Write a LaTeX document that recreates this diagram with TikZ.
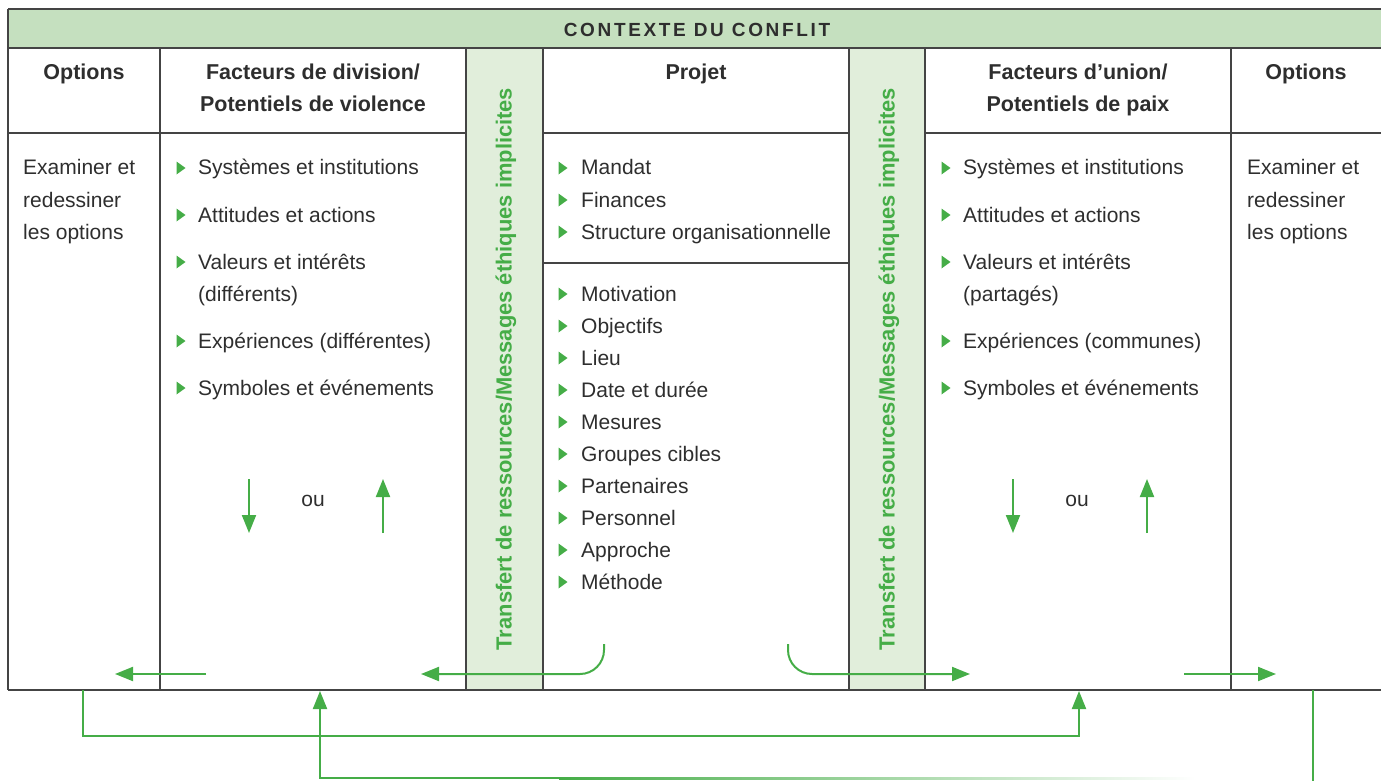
\documentclass[tikz,border=0pt]{standalone}
\usepackage{fontspec}
\setmainfont{Liberation Sans}
\usetikzlibrary{arrows.meta}
\definecolor{hdrgreen}{HTML}{C5E0BF}
\definecolor{colgreen}{HTML}{E1EEDB}
\definecolor{arrgreen}{HTML}{45AD47}
\definecolor{txt}{HTML}{2E2E2E}
\definecolor{rule}{HTML}{444444}
\tikzset{
  body/.style={font=\fontsize{21}{25}\selectfont, text=txt, inner sep=0pt, anchor=base west},
  head/.style={font=\bfseries\fontsize{21.5}{25}\selectfont, text=txt, inner sep=0pt, anchor=base},
  rulel/.style={draw=rule, line width=1.3pt},
  garrow/.style={draw=arrgreen, line width=2pt, -{Triangle[length=18pt,width=14pt]}},
  gline/.style={draw=arrgreen, line width=2pt},
  bul/.style={fill=arrgreen, draw=none},
  vtext/.style={font=\bfseries\fontsize{21.9}{25}\selectfont, text=arrgreen, rotate=90, inner sep=0pt},
}
\newcommand\mybul[2]{\fill[bul] (#1-4.5,#2-6.5) -- (#1-4.5,#2+6.5) -- (#1+4.5,#2) -- cycle;}
\begin{document}
\begin{tikzpicture}[x=1pt,y=-1pt]
\useasboundingbox (0,0) rectangle (1381,781);
% fills
\fill[hdrgreen] (8,9) rectangle (1381,48);
\fill[colgreen] (466,48) rectangle (543,690);
\fill[colgreen] (849,48) rectangle (925,690);
% rules
\draw[rulel] (8,9) -- (1381,9);
\draw[rulel] (8,48) -- (1381,48);
\draw[rulel] (8,133) -- (466,133);
\draw[rulel] (543,133) -- (849,133);
\draw[rulel] (925,133) -- (1381,133);
\draw[rulel] (543,263) -- (849,263);
\draw[rulel] (8,690) -- (1381,690);
\draw[rulel] (8,9) -- (8,690);
\foreach \xx in {160,466,543,849,925,1231} \draw[rulel] (\xx,48) -- (\xx,690);
% header
\node[head, font=\bfseries\fontsize{19}{22}\selectfont\addfontfeature{LetterSpace=14}] (ctx) at (697,37) {CONTEXTE DU CONFLIT};
\node[head] (h1) at (84,80) {Options};
\node[head] (h2a) at (313,80) {Facteurs de division/};
\node[head] (h2b) at (313,112) {Potentiels de violence};
\node[head] (h3) at (696,80) {Projet};
\node[head] (h4a) at (1078,80) {Facteurs d’union/};
\node[head] (h4b) at (1078,112) {Potentiels de paix};
\node[head] (h5) at (1306,80) {Options};
% vertical texts
\node[vtext] (v1) at (506,369) {Transfert de ressources/Messages éthiques implicites};
\node[vtext] (v2) at (889,369) {Transfert de ressources/Messages éthiques implicites};
% options texts
\node[body] (o1) at (23,175) {Examiner et};
\node[body] (o2) at (23,207) {redessiner};
\node[body] (o3) at (23,239) {les options};
\node[body] (p1) at (1247,175) {Examiner et};
\node[body] (p2) at (1247,207) {redessiner};
\node[body] (p3) at (1247,239) {les options};
% column 2
\foreach \yy/\tt [count=\i] in {175/Systèmes et institutions, 222/Attitudes et actions, 269/Valeurs et intérêts, 348/Expériences (différentes), 395/Symboles et événements}{
  \mybul{181}{\yy-7}
  \node[body] (d\i) at (198,\yy) {\tt};
}
\node[body] (d3b) at (198,301) {(différents)};
% column 6
\foreach \yy/\tt [count=\i] in {175/Systèmes et institutions, 222/Attitudes et actions, 269/Valeurs et intérêts, 348/Expériences (communes), 395/Symboles et événements}{
  \mybul{946}{\yy-7}
  \node[body] (u\i) at (963,\yy) {\tt};
}
\node[body] (u3b) at (963,301) {(partagés)};
% projet
\foreach \yy/\tt [count=\i] in {175/Mandat, 207/Finances, 239/Structure organisationnelle}{
  \mybul{563}{\yy-7}
  \node[body] (pa\i) at (581,\yy) {\tt};
}
\foreach \tt [count=\i] in {Motivation, Objectifs, Lieu, Date et durée, Mesures, Groupes cibles, Partenaires, Personnel, Approche, Méthode}{
  \pgfmathsetmacro\yy{301+32*(\i-1)}
  \mybul{563}{\yy-7}
  \node[body] (pb\i) at (581,\yy) {\tt};
}
% ou arrows
\node[body, anchor=base] (ou1) at (313,506) {ou};
\node[body, anchor=base] (ou2) at (1077,506) {ou};
\coordinate (a1t) at (249,479); \coordinate (a1b) at (249,533);
\coordinate (a2t) at (383,479); \coordinate (a2b) at (383,533);
\coordinate (b1t) at (1013,479); \coordinate (b1b) at (1013,533);
\coordinate (b2t) at (1147,479); \coordinate (b2b) at (1147,533);
\draw[garrow] (a1t) -- (a1b);
\draw[garrow] (a2b) -- (a2t);
\draw[garrow] (b1t) -- (b1b);
\draw[garrow] (b2b) -- (b2t);
% bottom arrows inside table
\coordinate (l1s) at (206,674); \coordinate (l1e) at (115,674);
\draw[garrow] (l1s) -- (l1e);
\coordinate (c1s) at (604,644); \coordinate (c1e) at (421,674);
\draw[garrow, rounded corners=24pt] (c1s) |- (c1e);
\coordinate (c2s) at (788,644); \coordinate (c2e) at (970,674);
\draw[garrow, rounded corners=24pt] (c2s) |- (c2e);
\coordinate (r1s) at (1184,674); \coordinate (r1e) at (1276,674);
\draw[garrow] (r1s) -- (r1e);
% loops below
\coordinate (f1s) at (83,690); \coordinate (f1e) at (1079,691);
\draw[garrow] (f1s) -- (83,736) -| (f1e);
\coordinate (g1s) at (1313,690); \coordinate (g1e) at (1313,781);
\draw[gline] (g1s) -- (g1e);
\coordinate (h1s) at (560,778); \coordinate (h1e) at (320,691);
\draw[garrow] (h1s) -- (320,778) -- (h1e);
\shade[left color=arrgreen, right color=white, shading angle=90] (559,777) rectangle (1195,779);
\end{tikzpicture}
\end{document}
